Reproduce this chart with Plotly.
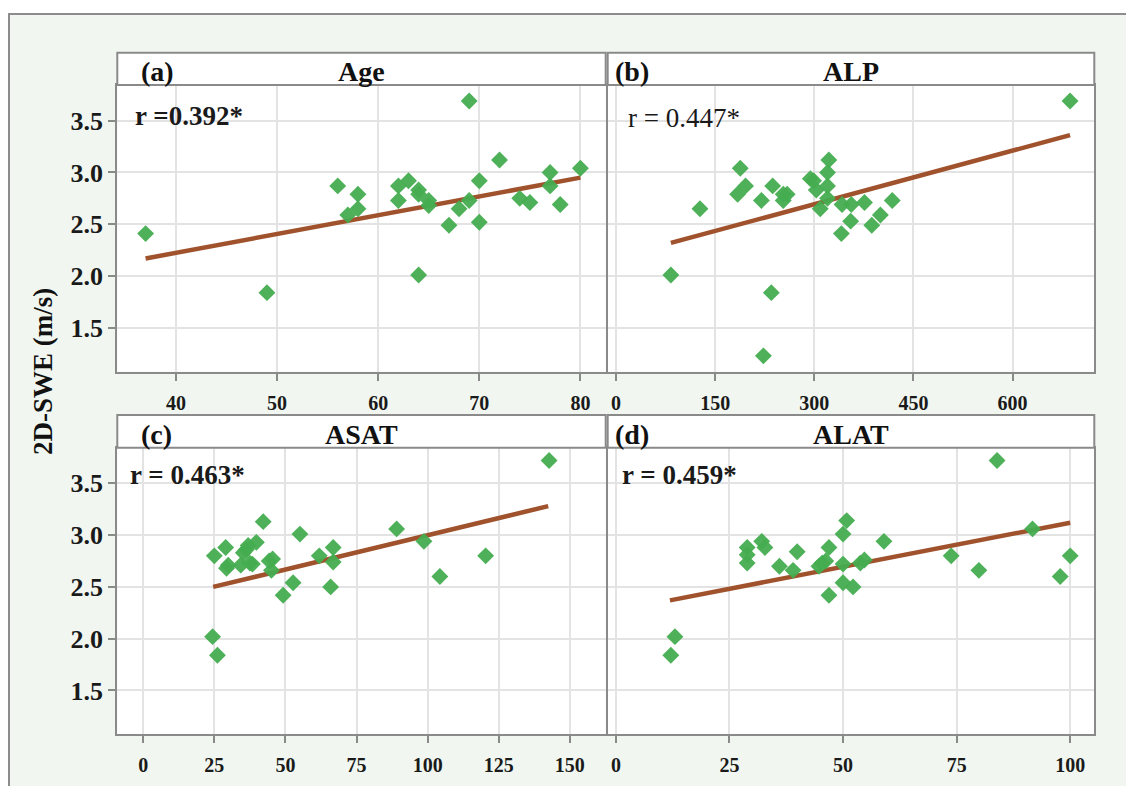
import plotly.graph_objects as go

# the page body has an 8px margin, so the figure is 16px smaller than the window
OFF = 8
FW, FH = 1118, 778

# ---------------- data ----------------
age_x = [37, 49, 56, 57, 58, 58, 62, 62, 63, 64, 64, 64, 65, 65, 67, 68, 69, 69, 70, 70, 72, 74, 75, 77, 77, 78, 80]
age_y = [2.41, 1.84, 2.87, 2.59, 2.79, 2.65, 2.87, 2.73, 2.92, 2.83, 2.79, 2.01, 2.73, 2.68, 2.49, 2.65, 3.69, 2.73,
         2.92, 2.52, 3.12, 2.75, 2.71, 3.00, 2.87, 2.69, 3.04]
age_fit_x = [37, 80]
age_fit_y = [2.17, 2.95]

alp_x = [83, 127, 188, 184, 196, 220, 237, 235, 223, 253, 253, 259, 294, 299, 303, 322, 320, 320, 320, 309, 341, 342,
         356, 355, 376, 387, 400, 418, 687]
alp_y = [2.01, 2.65, 3.04, 2.79, 2.87, 2.73, 2.87, 1.84, 1.23, 2.79, 2.73, 2.79, 2.94, 2.92, 2.83, 3.12, 3.00, 2.87,
         2.75, 2.65, 2.41, 2.69, 2.69, 2.53, 2.71, 2.49, 2.59, 2.73, 3.69]
alp_fit_x = [83, 687]
alp_fit_y = [2.32, 3.36]

asat_x = [25, 24.4, 26.1, 29, 29.3, 29.9, 34.3, 35.2, 36.3, 37.5, 38.4, 36.9, 39.8, 42.2, 44.3, 45.5, 45.1, 49.2, 52.7,
          55.1, 61.9, 66.8, 66.8, 65.9, 89.1, 98.7, 104.3, 120.4, 142.7]
asat_y = [2.80, 2.02, 1.84, 2.88, 2.68, 2.71, 2.71, 2.83, 2.86, 2.73, 2.72, 2.90, 2.93, 3.13, 2.75, 2.77, 2.66, 2.42,
          2.54, 3.01, 2.80, 2.88, 2.74, 2.50, 3.06, 2.94, 2.60, 2.80, 3.72]
asat_fit_x = [24.6, 142.4]
asat_fit_y = [2.50, 3.28]

alat_x = [12.1, 13, 28.9, 28.9, 28.9, 32.1, 32.8, 36, 39, 39.9, 44.7, 45.4, 46.2, 46.9, 46.9, 50, 50.8, 50, 50, 52.2,
          53.8, 54.7, 59, 73.8, 79.9, 83.9, 91.7, 97.8, 100]
alat_y = [1.84, 2.02, 2.88, 2.81, 2.73, 2.94, 2.88, 2.70, 2.66, 2.84, 2.70, 2.73, 2.75, 2.88, 2.42, 3.01, 3.14, 2.72,
          2.54, 2.50, 2.73, 2.76, 2.94, 2.80, 2.66, 3.72, 3.06, 2.60, 2.80]
alat_fit_x = [11.9, 100]
alat_fit_y = [2.37, 3.12]

panel_letters = ["(a)", "(b)", "(c)", "(d)"]
panel_titles = ["Age", "ALP", "ASAT", "ALAT"]
r_texts = ["r =0.392*", "r = 0.447*", "r = 0.463*", "r = 0.459*"]
y_ticks = [1.5, 2.0, 2.5, 3.0, 3.5]
y_ticklabels = ["1.5", "2.0", "2.5", "3.0", "3.5"]
x_ticks = [[40, 50, 60, 70, 80], [0, 150, 300, 450, 600], [0, 25, 50, 75, 100, 125, 150], [0, 25, 50, 75, 100]]
y_title = "2D-SWE (m/s)"

# ---------------- layout helpers (window pixel -> paper) ----------------
def fx(px):
    return (px - OFF) / FW

def fy(py):
    return 1 - (py - OFF) / FH

FONT = "Liberation Serif"
GRID = "#e3e3e3"
BORDER = "#8a8a8a"
GREEN = "#45ad50"
BROWN = "#a0522d"

col_px = [(117.3, 605.7), (607.7, 1094.3)]
row_px = [(85.0, 371.7), (447.7, 734.3)]
strip_px = [(52.7, 85.0), (415.0, 447.7)]
x_ranges = [[34.2, 82.5], [-12.6, 723.7], [-9.1, 162.6], [-1.8, 105.3]]
y_range = [1.077, 3.844]

series = [(age_x, age_y, age_fit_x, age_fit_y), (alp_x, alp_y, alp_fit_x, alp_fit_y),
          (asat_x, asat_y, asat_fit_x, asat_fit_y), (alat_x, alat_y, alat_fit_x, alat_fit_y)]

fig = go.Figure()
layout_axes = {}
shapes = []
annotations = []

for i in range(4):
    r, c = divmod(i, 2)
    sx = "" if i == 0 else str(i + 1)
    xs, ys, fxs, fys = series[i]
    fig.add_trace(go.Scatter(x=fxs, y=fys, mode="lines", line=dict(color=BROWN, width=4.5),
                             xaxis="x" + sx, yaxis="y" + sx, showlegend=False, hoverinfo="skip"))
    fig.add_trace(go.Scatter(x=xs, y=ys, mode="markers",
                             marker=dict(symbol="diamond", size=13, color=GREEN, opacity=0.95,
                                         line=dict(width=0)),
                             xaxis="x" + sx, yaxis="y" + sx, showlegend=False))
    x0, x1 = col_px[c]
    y0, y1 = row_px[r]
    layout_axes["xaxis" + sx] = dict(
        domain=[fx(x0), fx(x1)], anchor="y" + sx, range=x_ranges[i],
        tickmode="array", tickvals=x_ticks[i], ticktext=[str(v) for v in x_ticks[i]],
        ticks="outside", ticklen=7, tickwidth=1.5, tickcolor=BORDER,
        showgrid=True, gridcolor=GRID, gridwidth=1.5, zeroline=False,
        showline=True, mirror=True, linecolor=BORDER, linewidth=2,
        tickfont=dict(family=FONT, size=20, color="#1a1a1a", weight="bold"),
        ticklabelstandoff=5,
    )
    ydict = dict(
        domain=[fy(y1), fy(y0)], anchor="x" + sx, range=y_range,
        tickmode="array", tickvals=y_ticks, ticktext=y_ticklabels,
        showgrid=True, gridcolor=GRID, gridwidth=1.5, zeroline=False,
        showline=True, mirror=True, linecolor=BORDER, linewidth=2,
    )
    if c == 0:
        ydict.update(ticks="outside", ticklen=7, tickwidth=1.5, tickcolor=BORDER,
                     tickfont=dict(family=FONT, size=26, color="#1a1a1a", weight="bold"))
    else:
        ydict.update(ticks="", showticklabels=False)
    layout_axes["yaxis" + sx] = ydict

    # strip
    s0, s1 = strip_px[r]
    shapes.append(dict(type="rect", xref="paper", yref="paper", x0=fx(x0), x1=fx(x1), y0=fy(s1), y1=fy(s0),
                       fillcolor="white", line=dict(color=BORDER, width=2), layer="above"))
    cy = (s0 + s1) / 2 + 3
    annotations.append(dict(text=panel_letters[i], xref="paper", yref="paper",
                            x=fx(x0 + (22 if c == 0 else 5)), y=fy(cy), xanchor="left", yanchor="middle",
                            showarrow=False, font=dict(family=FONT, size=28, color="#111", weight="bold")))
    annotations.append(dict(text=panel_titles[i], xref="paper", yref="paper",
                            x=fx((x0 + x1) / 2), y=fy(cy), xanchor="center", yanchor="middle",
                            showarrow=False, font=dict(family=FONT, size=28, color="#111", weight="bold")))
    # r label
    rx = [132.7, 626, 128, 620][i]
    ry = [116, 118, 475, 475][i]
    annotations.append(dict(text=r_texts[i], xref="paper", yref="paper", x=fx(rx), y=fy(ry),
                            xanchor="left", yanchor="middle", showarrow=False,
                            font=dict(family=FONT, size=27, color="#1a1a1a",
                                      weight="normal" if i == 1 else "bold")))

# y title
annotations.append(dict(text=y_title, xref="paper", yref="paper", x=fx(43), y=fy(372),
                        xanchor="center", yanchor="middle", textangle=-90, showarrow=False,
                        font=dict(family=FONT, size=27, color="#111", weight="bold")))

# white band above the frame + frame lines (left white band is the page margin)
shapes.append(dict(type="rect", xref="paper", yref="paper", x0=-0.01, x1=1.01, y0=fy(14), y1=1.01,
                   fillcolor="white", line=dict(width=0), layer="below"))
shapes.append(dict(type="line", xref="paper", yref="paper", x0=fx(9), x1=fx(9), y0=-0.01, y1=fy(14),
                   line=dict(color="#8c8c8c", width=2)))
shapes.append(dict(type="line", xref="paper", yref="paper", x0=fx(8), x1=1.01, y0=fy(14), y1=fy(14),
                   line=dict(color="#8c8c8c", width=2)))

fig.update_layout(
    width=FW, height=FH, margin=dict(l=0, r=0, t=0, b=0),
    paper_bgcolor="#f1f7f0", plot_bgcolor="white",
    shapes=shapes, annotations=annotations, showlegend=False,
    **layout_axes,
)

fig.write_html("out.html")
